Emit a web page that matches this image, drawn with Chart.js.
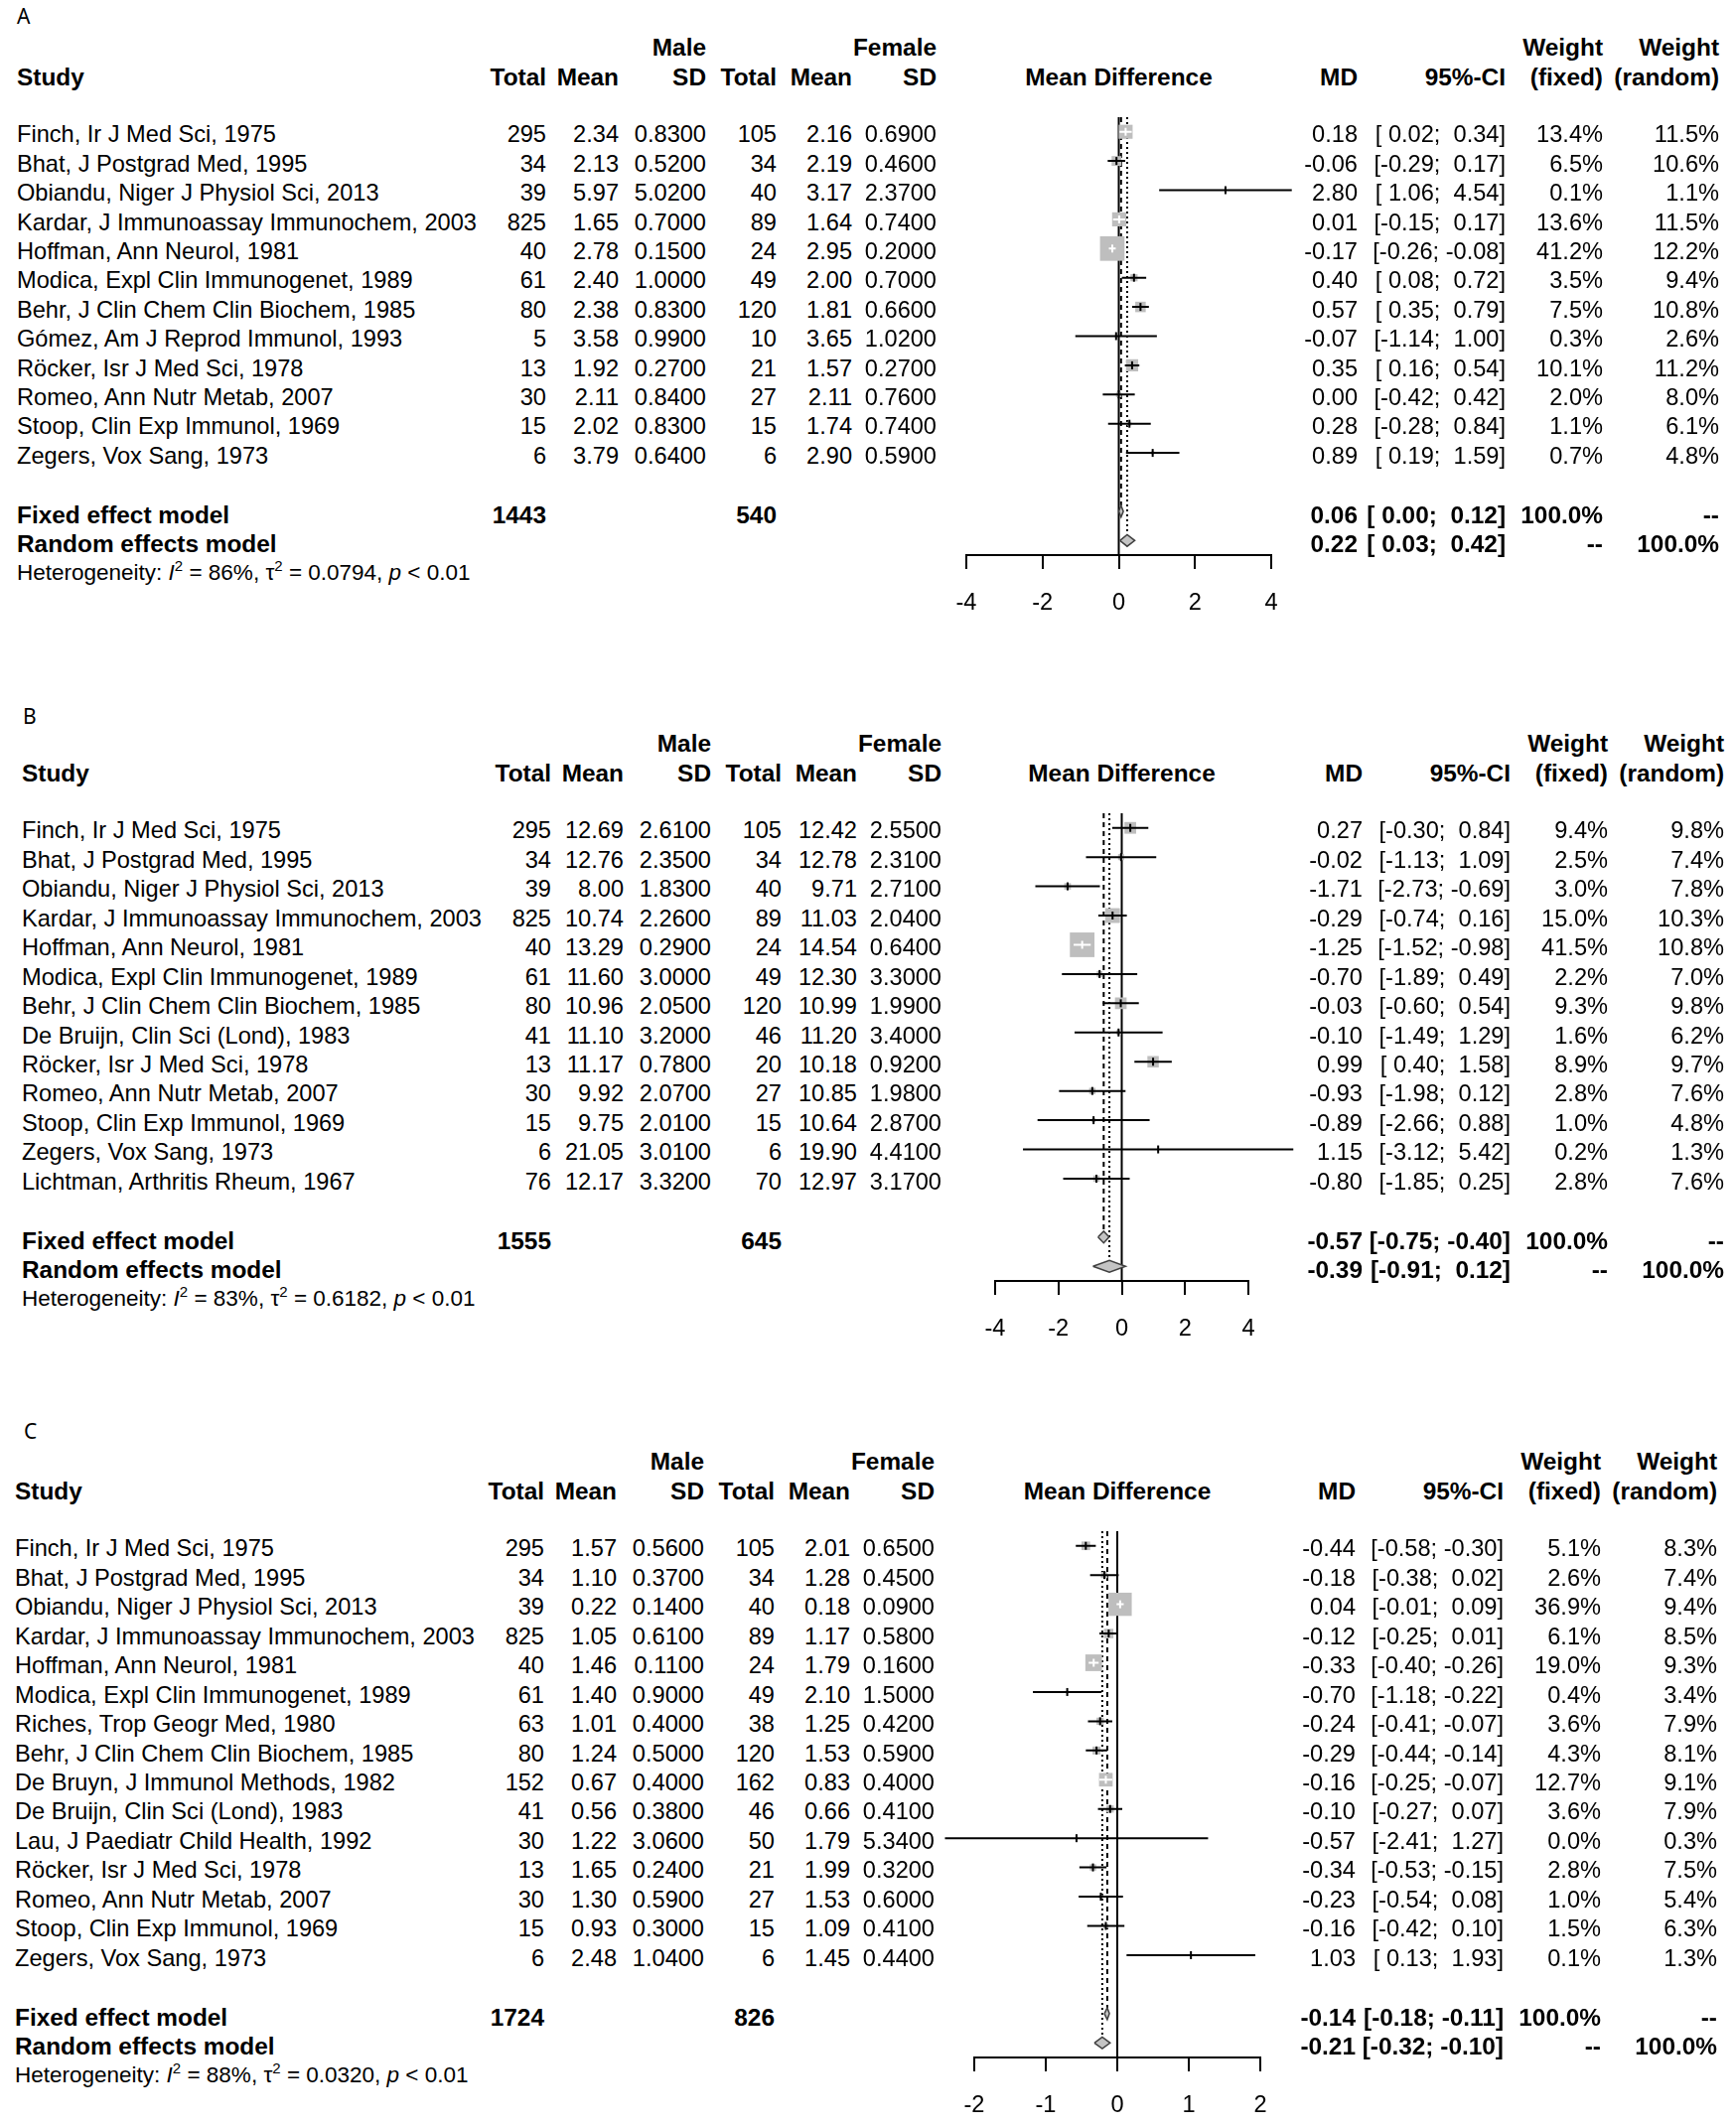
<!DOCTYPE html>
<html>
<head>
<meta charset="utf-8">
<script src="https://cdn.jsdelivr.net/npm/chart.js@4.4.1/dist/chart.umd.min.js"></script>
<style>
html, body { margin: 0; padding: 0; background: #fff; }
#page { position: relative; width: 1748px; height: 2141px; overflow: hidden;
  font-family: "Liberation Sans", Arial, sans-serif; color: #000; }
.t { position: absolute; white-space: pre; line-height: 1; font-size: 23.6px; transform: translateY(-50%); }
.b { font-weight: bold; font-size: 24.4px; }
.het { font-size: 22.5px; }
.het sup { font-size: 15px; line-height: 0; vertical-align: 0; position: relative; top: -0.6em; }
.letter { position: absolute; font-family: "Noto Sans", sans-serif; font-size: 21px; line-height: 1; transform: translateY(-50%); }
canvas { position: absolute; }
</style>
</head>
<body>
<div id="page"></div>
<script>
'use strict';

// ---------- panel A ----------
const aStudy = ['Finch, Ir J Med Sci, 1975', 'Bhat, J Postgrad Med, 1995', 'Obiandu, Niger J Physiol Sci, 2013',
  'Kardar, J Immunoassay Immunochem, 2003', 'Hoffman, Ann Neurol, 1981', 'Modica, Expl Clin Immunogenet, 1989',
  'Behr, J Clin Chem Clin Biochem, 1985', 'Gómez, Am J Reprod Immunol, 1993', 'Röcker, Isr J Med Sci, 1978',
  'Romeo, Ann Nutr Metab, 2007', 'Stoop, Clin Exp Immunol, 1969', 'Zegers, Vox Sang, 1973'];
const aMaleN = [295, 34, 39, 825, 40, 61, 80, 5, 13, 30, 15, 6];
const aMaleMean = [2.34, 2.13, 5.97, 1.65, 2.78, 2.40, 2.38, 3.58, 1.92, 2.11, 2.02, 3.79];
const aMaleSd = [0.83, 0.52, 5.02, 0.70, 0.15, 1.00, 0.83, 0.99, 0.27, 0.84, 0.83, 0.64];
const aFemN = [105, 34, 40, 89, 24, 49, 120, 10, 21, 27, 15, 6];
const aFemMean = [2.16, 2.19, 3.17, 1.64, 2.95, 2.00, 1.81, 3.65, 1.57, 2.11, 1.74, 2.90];
const aFemSd = [0.69, 0.46, 2.37, 0.74, 0.20, 0.70, 0.66, 1.02, 0.27, 0.76, 0.74, 0.59];
const aMD = [0.18, -0.06, 2.80, 0.01, -0.17, 0.40, 0.57, -0.07, 0.35, 0.00, 0.28, 0.89];
const aLo = [0.02, -0.29, 1.06, -0.15, -0.26, 0.08, 0.35, -1.14, 0.16, -0.42, -0.28, 0.19];
const aHi = [0.34, 0.17, 4.54, 0.17, -0.08, 0.72, 0.79, 1.00, 0.54, 0.42, 0.84, 1.59];
const aWFix = [13.4, 6.5, 0.1, 13.6, 41.2, 3.5, 7.5, 0.3, 10.1, 2.0, 1.1, 0.7];
const aWRan = [11.5, 10.6, 1.1, 11.5, 12.2, 9.4, 10.8, 2.6, 11.2, 8.0, 6.1, 4.8];
const aTotals = [1443, 540];
const aFixed = [0.06, 0.00, 0.12];
const aRandom = [0.22, 0.03, 0.42];
const aHet = ['86%', '0.0794'];
const aTicks = [-4, -2, 0, 2, 4];

// ---------- panel B ----------
const bStudy = ['Finch, Ir J Med Sci, 1975', 'Bhat, J Postgrad Med, 1995', 'Obiandu, Niger J Physiol Sci, 2013',
  'Kardar, J Immunoassay Immunochem, 2003', 'Hoffman, Ann Neurol, 1981', 'Modica, Expl Clin Immunogenet, 1989',
  'Behr, J Clin Chem Clin Biochem, 1985', 'De Bruijn, Clin Sci (Lond), 1983', 'Röcker, Isr J Med Sci, 1978',
  'Romeo, Ann Nutr Metab, 2007', 'Stoop, Clin Exp Immunol, 1969', 'Zegers, Vox Sang, 1973',
  'Lichtman, Arthritis Rheum, 1967'];
const bMaleN = [295, 34, 39, 825, 40, 61, 80, 41, 13, 30, 15, 6, 76];
const bMaleMean = [12.69, 12.76, 8.00, 10.74, 13.29, 11.60, 10.96, 11.10, 11.17, 9.92, 9.75, 21.05, 12.17];
const bMaleSd = [2.61, 2.35, 1.83, 2.26, 0.29, 3.00, 2.05, 3.20, 0.78, 2.07, 2.01, 3.01, 3.32];
const bFemN = [105, 34, 40, 89, 24, 49, 120, 46, 20, 27, 15, 6, 70];
const bFemMean = [12.42, 12.78, 9.71, 11.03, 14.54, 12.30, 10.99, 11.20, 10.18, 10.85, 10.64, 19.90, 12.97];
const bFemSd = [2.55, 2.31, 2.71, 2.04, 0.64, 3.30, 1.99, 3.40, 0.92, 1.98, 2.87, 4.41, 3.17];
const bMD = [0.27, -0.02, -1.71, -0.29, -1.25, -0.70, -0.03, -0.10, 0.99, -0.93, -0.89, 1.15, -0.80];
const bLo = [-0.30, -1.13, -2.73, -0.74, -1.52, -1.89, -0.60, -1.49, 0.40, -1.98, -2.66, -3.12, -1.85];
const bHi = [0.84, 1.09, -0.69, 0.16, -0.98, 0.49, 0.54, 1.29, 1.58, 0.12, 0.88, 5.42, 0.25];
const bWFix = [9.4, 2.5, 3.0, 15.0, 41.5, 2.2, 9.3, 1.6, 8.9, 2.8, 1.0, 0.2, 2.8];
const bWRan = [9.8, 7.4, 7.8, 10.3, 10.8, 7.0, 9.8, 6.2, 9.7, 7.6, 4.8, 1.3, 7.6];
const bTotals = [1555, 645];
const bFixed = [-0.57, -0.75, -0.40];
const bRandom = [-0.39, -0.91, 0.12];
const bHet = ['83%', '0.6182'];
const bTicks = [-4, -2, 0, 2, 4];

// ---------- panel C ----------
const cStudy = ['Finch, Ir J Med Sci, 1975', 'Bhat, J Postgrad Med, 1995', 'Obiandu, Niger J Physiol Sci, 2013',
  'Kardar, J Immunoassay Immunochem, 2003', 'Hoffman, Ann Neurol, 1981', 'Modica, Expl Clin Immunogenet, 1989',
  'Riches, Trop Geogr Med, 1980', 'Behr, J Clin Chem Clin Biochem, 1985', 'De Bruyn, J Immunol Methods, 1982',
  'De Bruijn, Clin Sci (Lond), 1983', 'Lau, J Paediatr Child Health, 1992', 'Röcker, Isr J Med Sci, 1978',
  'Romeo, Ann Nutr Metab, 2007', 'Stoop, Clin Exp Immunol, 1969', 'Zegers, Vox Sang, 1973'];
const cMaleN = [295, 34, 39, 825, 40, 61, 63, 80, 152, 41, 30, 13, 30, 15, 6];
const cMaleMean = [1.57, 1.10, 0.22, 1.05, 1.46, 1.40, 1.01, 1.24, 0.67, 0.56, 1.22, 1.65, 1.30, 0.93, 2.48];
const cMaleSd = [0.56, 0.37, 0.14, 0.61, 0.11, 0.90, 0.40, 0.50, 0.40, 0.38, 3.06, 0.24, 0.59, 0.30, 1.04];
const cFemN = [105, 34, 40, 89, 24, 49, 38, 120, 162, 46, 50, 21, 27, 15, 6];
const cFemMean = [2.01, 1.28, 0.18, 1.17, 1.79, 2.10, 1.25, 1.53, 0.83, 0.66, 1.79, 1.99, 1.53, 1.09, 1.45];
const cFemSd = [0.65, 0.45, 0.09, 0.58, 0.16, 1.50, 0.42, 0.59, 0.40, 0.41, 5.34, 0.32, 0.60, 0.41, 0.44];
const cMD = [-0.44, -0.18, 0.04, -0.12, -0.33, -0.70, -0.24, -0.29, -0.16, -0.10, -0.57, -0.34, -0.23, -0.16, 1.03];
const cLo = [-0.58, -0.38, -0.01, -0.25, -0.40, -1.18, -0.41, -0.44, -0.25, -0.27, -2.41, -0.53, -0.54, -0.42, 0.13];
const cHi = [-0.30, 0.02, 0.09, 0.01, -0.26, -0.22, -0.07, -0.14, -0.07, 0.07, 1.27, -0.15, 0.08, 0.10, 1.93];
const cWFix = [5.1, 2.6, 36.9, 6.1, 19.0, 0.4, 3.6, 4.3, 12.7, 3.6, 0.0, 2.8, 1.0, 1.5, 0.1];
const cWRan = [8.3, 7.4, 9.4, 8.5, 9.3, 3.4, 7.9, 8.1, 9.1, 7.9, 0.3, 7.5, 5.4, 6.3, 1.3];
const cTotals = [1724, 826];
const cFixed = [-0.14, -0.18, -0.11];
const cRandom = [-0.21, -0.32, -0.10];
const cHet = ['88%', '0.0320'];
const cTicks = [-2, -1, 0, 1, 2];

// ---------- layout ----------
const PAGE_W = 1748;
const ROW_H = 29.45;
const TEXT_DY = 3.5;     // R sets its text a touch below the mark centres
const FONT = '"Liberation Sans", Arial, sans-serif';
const BOX_K = 3.85;      // square side = BOX_K * sqrt(weight)
const DIA_H = 0.2;       // diamond half height, in rows
const PAD_X = 90, PAD_T = 24, AXIS_H = 80;
const GREY = '#bebebe';

const page = document.getElementById('page');

function put(text, x, y, align, cls, html) {
  const el = document.createElement('div');
  el.className = 't' + (cls ? ' ' + cls : '');
  if (html) el.innerHTML = text; else el.textContent = text;
  if (align === 'right') el.style.right = (PAGE_W - x) + 'px';
  else el.style.left = x + 'px';
  if (align === 'center') el.style.transform = 'translate(-50%, -50%)';
  el.style.top = (y + TEXT_DY) + 'px';
  page.appendChild(el);
}

const pad = v => (v < 0 ? '' : ' ') + v.toFixed(2);
const ci = (lo, hi) => '[' + pad(lo) + '; ' + pad(hi) + ']';

function drawPanel(d, lay) {
  const n = d.study.length;
  const fixedRow = n + 1, randomRow = n + 2, hetRow = n + 3, axisRow = n + 2.5;
  const xMin = d.ticks[0], xMax = d.ticks[d.ticks.length - 1];
  const pxPerUnit = (lay.axisRight - lay.axisLeft) / (xMax - xMin);
  const side = d.wFix.map(w => BOX_K * Math.sqrt(w));
  const inside = d.md.map((m, i) => (d.hi[i] - d.lo[i]) * pxPerUnit <= side[i]);

  const ciBlack = [], ciWhite = [];
  d.md.forEach((m, i) => {
    const arr = inside[i] ? ciWhite : ciBlack;
    arr.push({ x: d.lo[i], y: i }, { x: d.hi[i], y: i }, { x: d.hi[i], y: null });
  });
  const pts = d.md.map((m, i) => ({ x: m, y: i }));
  const diamond = (s, r) => [{ x: s[1], y: r }, { x: s[0], y: r - DIA_H }, { x: s[2], y: r },
    { x: s[0], y: r + DIA_H }, { x: s[1], y: r }];
  const vline = (x, y1) => [{ x: x, y: -0.5 }, { x: x, y: y1 }];

  const lineDs = (data, color, extra) => Object.assign({
    type: 'scatter', data, showLine: true, spanGaps: false, borderColor: color, borderWidth: 2,
    pointRadius: 0, clip: false
  }, extra);

  const canvas = document.createElement('canvas');
  canvas.width = (lay.axisRight - lay.axisLeft) + 2 * PAD_X;
  canvas.height = PAD_T + (axisRow + 0.5) * ROW_H + AXIS_H;
  page.appendChild(canvas);

  const chart = new Chart(canvas, {
    type: 'scatter',
    data: {
      datasets: [
        lineDs(vline(0, axisRow), '#000', { order: 6 }),
        lineDs(vline(d.fixed[0], fixedRow - DIA_H), '#000', { order: 6, borderDash: [5, 4] }),
        lineDs(vline(d.random[0], randomRow - DIA_H), '#000', { order: 6, borderDash: [2, 3] }),
        {
          type: 'scatter', data: pts, order: 5, clip: false, pointStyle: 'rect',
          pointRadius: side.map(s => s / Math.SQRT2), pointBackgroundColor: GREY, pointBorderWidth: 0
        },
        lineDs(ciBlack, '#000', { order: 4 }),
        lineDs(ciWhite, '#fff', { order: 4 }),
        {
          type: 'scatter', data: pts, order: 3, clip: false, pointStyle: 'line', pointRotation: 90,
          pointRadius: 4, pointBorderWidth: 2, pointBorderColor: inside.map(f => (f ? '#fff' : '#000'))
        },
        {
          type: 'line', data: diamond(d.fixed, fixedRow), order: 2, clip: false, fill: 'shape',
          tension: 0, borderColor: '#404040', borderWidth: 1.5, backgroundColor: '#c4c4c4', pointRadius: 0
        },
        {
          type: 'line', data: diamond(d.random, randomRow), order: 2, clip: false, fill: 'shape',
          tension: 0, borderColor: '#404040', borderWidth: 1.5, backgroundColor: '#c4c4c4', pointRadius: 0
        }
      ]
    },
    options: {
      responsive: false,
      animation: false,
      devicePixelRatio: 1,
      events: [],
      layout: { padding: { left: PAD_X, right: PAD_X, top: PAD_T, bottom: 0 } },
      plugins: { legend: { display: false }, tooltip: { enabled: false } },
      scales: {
        x: {
          type: 'linear', position: 'bottom', min: xMin, max: xMax,
          afterFit: s => { s.height = AXIS_H; },
          afterBuildTicks: s => { s.ticks = d.ticks.map(v => ({ value: v })); },
          grid: { drawOnChartArea: false, drawTicks: true, tickLength: 14, color: '#000', lineWidth: 2 },
          border: { display: true, color: '#000', width: 2 },
          ticks: {
            color: '#000', padding: 20, maxRotation: 0, autoSkip: false,
            font: { family: FONT, size: 23.6 }, callback: v => String(v)
          }
        },
        y: { type: 'linear', display: false, min: -0.5, max: axisRow, reverse: true }
      }
    }
  });

  const ca = chart.chartArea;
  const left = lay.axisLeft - ca.left;
  const top = lay.row0 - 0.5 * ROW_H - ca.top;
  canvas.style.left = left + 'px';
  canvas.style.top = top + 'px';
  const yOf = r => top + chart.scales.y.getPixelForValue(r);
  const xMid = left + chart.scales.x.getPixelForValue((xMin + xMax) / 2);

  const dx = lay.dx;
  const col = {
    mTot: 550 + dx, mMean: 623 + dx, mSd: 711 + dx, fTot: 782 + dx, fMean: 858 + dx, fSd: 943 + dx,
    md: 1367 + dx, ci: 1516 + dx, wFix: 1614 + dx, wRan: 1731 + dx
  };

  // panel letter
  const let_ = document.createElement('div');
  let_.className = 'letter';
  let_.textContent = lay.letter;
  let_.style.left = lay.letterX + 'px';
  let_.style.top = lay.letterY + 'px';
  page.appendChild(let_);

  // headers
  const h1 = yOf(-3), h2 = yOf(-2);
  put('Male', col.mSd, h1, 'right', 'b');
  put('Female', col.fSd, h1, 'right', 'b');
  put('Weight', col.wFix, h1, 'right', 'b');
  put('Weight', col.wRan, h1, 'right', 'b');
  put('Study', lay.studyX, h2, 'left', 'b');
  put('Total', col.mTot, h2, 'right', 'b');
  put('Mean', col.mMean, h2, 'right', 'b');
  put('SD', col.mSd, h2, 'right', 'b');
  put('Total', col.fTot, h2, 'right', 'b');
  put('Mean', col.fMean, h2, 'right', 'b');
  put('SD', col.fSd, h2, 'right', 'b');
  put('Mean Difference', xMid, h2, 'center', 'b');
  put('MD', col.md, h2, 'right', 'b');
  put('95%-CI', col.ci, h2, 'right', 'b');
  put('(fixed)', col.wFix, h2, 'right', 'b');
  put('(random)', col.wRan, h2, 'right', 'b');

  // study rows
  d.study.forEach((s, i) => {
    const y = yOf(i);
    put(s, lay.studyX, y, 'left');
    put(String(d.maleN[i]), col.mTot, y, 'right');
    put(d.maleMean[i].toFixed(2), col.mMean, y, 'right');
    put(d.maleSd[i].toFixed(4), col.mSd, y, 'right');
    put(String(d.femN[i]), col.fTot, y, 'right');
    put(d.femMean[i].toFixed(2), col.fMean, y, 'right');
    put(d.femSd[i].toFixed(4), col.fSd, y, 'right');
    put(d.md[i].toFixed(2), col.md, y, 'right');
    put(ci(d.lo[i], d.hi[i]), col.ci, y, 'right');
    put(d.wFix[i].toFixed(1) + '%', col.wFix, y, 'right');
    put(d.wRan[i].toFixed(1) + '%', col.wRan, y, 'right');
  });

  // pooled rows
  let y = yOf(fixedRow);
  put('Fixed effect model', lay.studyX, y, 'left', 'b');
  put(String(d.totals[0]), col.mTot, y, 'right', 'b');
  put(String(d.totals[1]), col.fTot, y, 'right', 'b');
  put(d.fixed[0].toFixed(2), col.md, y, 'right', 'b');
  put(ci(d.fixed[1], d.fixed[2]), col.ci, y, 'right', 'b');
  put('100.0%', col.wFix, y, 'right', 'b');
  put('--', col.wRan, y, 'right', 'b');

  y = yOf(randomRow);
  put('Random effects model', lay.studyX, y, 'left', 'b');
  put(d.random[0].toFixed(2), col.md, y, 'right', 'b');
  put(ci(d.random[1], d.random[2]), col.ci, y, 'right', 'b');
  put('--', col.wFix, y, 'right', 'b');
  put('100.0%', col.wRan, y, 'right', 'b');

  put('Heterogeneity: <i>I</i><sup>2</sup> = ' + d.het[0] + ', τ<sup>2</sup> = ' + d.het[1] +
    ', <i>p</i> &lt; 0.01', lay.studyX, yOf(hetRow), 'left', 'het', true);
}

drawPanel(
  { study: aStudy, maleN: aMaleN, maleMean: aMaleMean, maleSd: aMaleSd, femN: aFemN, femMean: aFemMean,
    femSd: aFemSd, md: aMD, lo: aLo, hi: aHi, wFix: aWFix, wRan: aWRan, totals: aTotals, fixed: aFixed,
    random: aRandom, het: aHet, ticks: aTicks },
  { row0: 133, axisLeft: 973, axisRight: 1280, dx: 0, studyX: 17, letter: 'A', letterX: 17, letterY: 16 });

drawPanel(
  { study: bStudy, maleN: bMaleN, maleMean: bMaleMean, maleSd: bMaleSd, femN: bFemN, femMean: bFemMean,
    femSd: bFemSd, md: bMD, lo: bLo, hi: bHi, wFix: bWFix, wRan: bWRan, totals: bTotals, fixed: bFixed,
    random: bRandom, het: bHet, ticks: bTicks },
  { row0: 834, axisLeft: 1002, axisRight: 1257, dx: 5, studyX: 22, letter: 'B', letterX: 23, letterY: 721 });

drawPanel(
  { study: cStudy, maleN: cMaleN, maleMean: cMaleMean, maleSd: cMaleSd, femN: cFemN, femMean: cFemMean,
    femSd: cFemSd, md: cMD, lo: cLo, hi: cHi, wFix: cWFix, wRan: cWRan, totals: cTotals, fixed: cFixed,
    random: cRandom, het: cHet, ticks: cTicks },
  { row0: 1557, axisLeft: 981, axisRight: 1269, dx: -2, studyX: 15, letter: 'C', letterX: 24, letterY: 1441 });
</script>
</body>
</html>
